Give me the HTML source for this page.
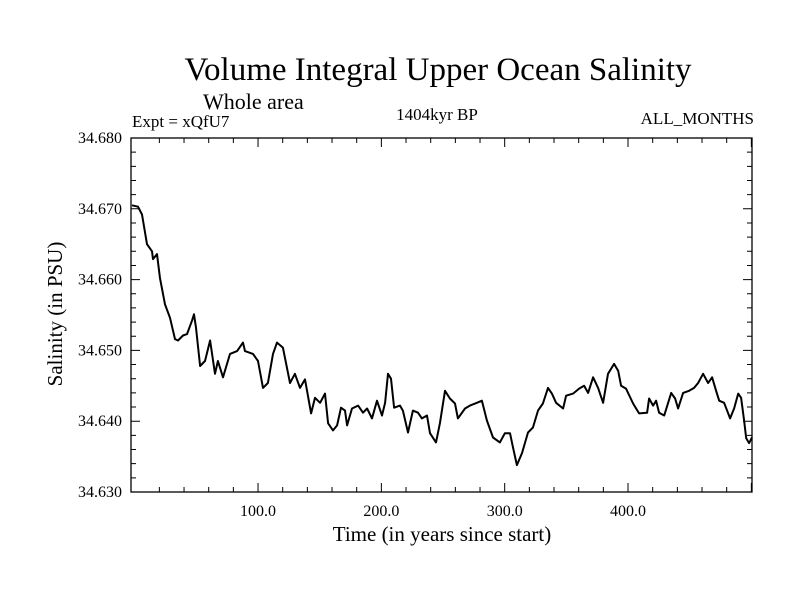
<!DOCTYPE html>
<html><head><meta charset="utf-8"><style>
body{margin:0;background:#fff;width:800px;height:600px;overflow:hidden}
svg text{font-family:"Liberation Serif",serif;fill:#000}
</style></head><body>
<svg id="chart" width="800" height="600" xmlns="http://www.w3.org/2000/svg">
<text x="438" y="80" font-size="33" text-anchor="middle">Volume Integral Upper Ocean Salinity</text>
<text x="203" y="109" font-size="22">Whole area</text>
<text x="132" y="127" font-size="17">Expt = xQfU7</text>
<text x="437" y="120" font-size="17" text-anchor="middle">1404kyr BP</text>
<text x="754" y="124" font-size="17" text-anchor="end">ALL_MONTHS</text>
<text transform="translate(62,314) rotate(-90)" font-size="21" text-anchor="middle">Salinity (in PSU)</text>
<text x="442" y="541" font-size="21" text-anchor="middle">Time (in years since start)</text>
<g id="plot"></g>
</svg>
<script>
const years=[-2.2,2.7,5.9,10.0,14.0,14.8,18.1,20.5,24.6,28.6,32.7,35.1,39.2,42.4,46.5,48.1,49.7,53.0,57.0,61.1,65.1,67.5,71.6,77.3,83.0,87.8,89.4,95.9,100,104,108,112.1,115.4,120.2,125.9,129.9,134,138.1,143,146.2,150.3,154.3,156.8,160.8,164.1,167.3,170.5,172.2,176.2,181.1,185.1,188.4,192.4,196.5,200.5,203,205.4,207.8,210.3,215.1,217.5,221.6,225.6,229.7,232.9,237,239.4,244.3,247.5,251.6,255.6,259.7,262.1,267.8,271.8,277.5,281.5,285.6,290.5,296.1,300.2,304.3,306.7,309.9,314,318.9,322.9,327,331,335.1,338.3,341.7,347.4,349.8,355.5,360.3,364.4,367.6,371.7,375.7,379.8,383.8,388.7,392,394.4,398.4,404.1,409,415.5,417.1,420.3,422.8,425.2,429.3,435,438.2,440.6,444.7,449.5,453.6,456.8,460.9,464.9,468.2,471.4,473.9,477.9,482.8,486,489.3,491.7,494.1,495.8,498.2,501.4];
const salinity=[34.6705,34.6703,34.6692,34.6650,34.6640,34.6629,34.6636,34.6602,34.6565,34.6546,34.6516,34.6514,34.6521,34.6523,34.6542,34.6551,34.6532,34.6478,34.6485,34.6514,34.6467,34.6485,34.6462,34.6495,34.6499,34.6511,34.6499,34.6495,34.6485,34.6447,34.6454,34.6495,34.6511,34.6504,34.6454,34.6467,34.6447,34.6459,34.6411,34.6433,34.6426,34.6439,34.6397,34.6387,34.6394,34.6419,34.6415,34.6394,34.6418,34.6422,34.6412,34.6418,34.6404,34.6429,34.6408,34.6426,34.6467,34.6460,34.6419,34.6422,34.6415,34.6384,34.6415,34.6412,34.6404,34.6408,34.6383,34.6370,34.6397,34.6443,34.6432,34.6425,34.6404,34.6418,34.6422,34.6426,34.6429,34.6401,34.6377,34.6370,34.6383,34.6383,34.6363,34.6338,34.6355,34.6384,34.6391,34.6415,34.6425,34.6447,34.6439,34.6426,34.6418,34.6436,34.6439,34.6446,34.6450,34.6440,34.6462,34.6447,34.6426,34.6467,34.6481,34.6471,34.6450,34.6446,34.6425,34.6411,34.6412,34.6432,34.6422,34.6429,34.6412,34.6408,34.6440,34.6432,34.6418,34.6440,34.6443,34.6447,34.6454,34.6467,34.6454,34.6462,34.6443,34.6429,34.6426,34.6404,34.6418,34.6439,34.6433,34.6401,34.6376,34.6369,34.6377];
const yTickValues=[34.630,34.640,34.650,34.660,34.670,34.680];
const yTickLabels=["34.630","34.640","34.650","34.660","34.670","34.680"];
const xTickValues=[100,200,300,400];
const xTickLabels=["100.0","200.0","300.0","400.0"];
const L=131,R=752,T=138,B=492;
const X0=134.7,PXY=1.2333;
const xs=v=>X0+v*PXY;
const ys=v=>B-(v-34.630)/0.05*(B-T);
const NS="http://www.w3.org/2000/svg";
const g=document.getElementById('plot');
function mk(tag,attrs){const e=document.createElementNS(NS,tag);for(const k in attrs)e.setAttribute(k,attrs[k]);g.appendChild(e);return e;}
let d="";
for(let v=34.630;v<=34.6801;v+=0.002){const y=ys(v);const major=Math.abs(Math.round(v*1000)%10)<0.5;const len=major?9:5;d+=`M${L},${y}h${len}M${R},${y}h${-len}`;}
for(let yr=20;yr<=500;yr+=20){const x=xs(yr);if(x>R)break;const major=yr%100===0;const len=major?9:5;d+=`M${x},${B}v${-len}M${x},${T}v${len}`;}
const ticks=mk('path',{d:d,stroke:'#000','stroke-width':1,fill:'none'});


const frame=mk('rect',{x:L,y:T,width:R-L,height:B-T,fill:'none',stroke:'#000','stroke-width':1.3});


yTickValues.forEach((v,i)=>{const t=mk('text',{x:122,y:ys(v)+5,'font-size':16,'text-anchor':'end'});t.textContent=yTickLabels[i];

});
xTickValues.forEach((v,i)=>{const t=mk('text',{x:xs(v),y:516,'font-size':16,'text-anchor':'middle'});t.textContent=xTickLabels[i];

});
let p=years.map((yr,i)=>(i?'L':'M')+Math.min(R,xs(yr)).toFixed(1)+','+ys(salinity[i]).toFixed(1)).join('');
const line=mk('path',{d:p,stroke:'#000','stroke-width':2,fill:'none','stroke-linejoin':'round'});


</script>
</body></html>
